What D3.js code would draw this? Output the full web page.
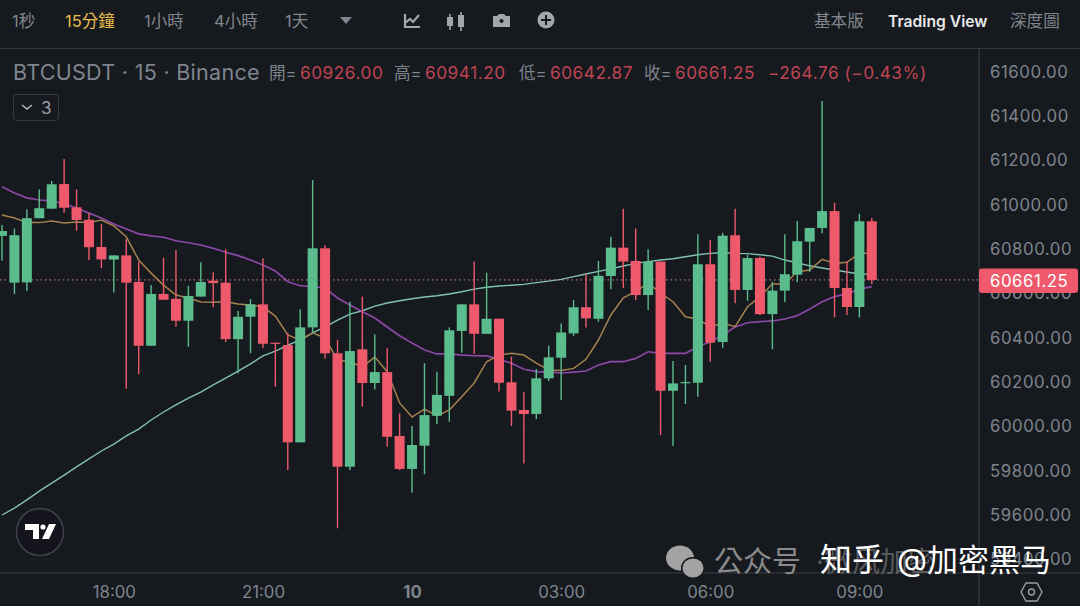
<!DOCTYPE html>
<html>
<head>
<meta charset="utf-8">
<script src="https://cdn.jsdelivr.net/npm/d3@7"></script>
<style>
  html, body { margin: 0; padding: 0; background: #16191e; overflow: hidden; }
  text { font-family: Inter, "Noto Sans CJK TC", sans-serif; }
</style>
</head>
<body>
<div id="chart"></div>
<script>
// candles, oldest first (15 minute bars)
const opens = [60860,60649,60650,60940,60983,61094,60989,60933,60810,60753,60772,60652,60364,60598,60576,60477,60586,60658,60649,60394,60495,60551,60378,60367,59928,60447,60804,60330,59818,60348,60196,60245,59957,59808,59913,60048,60138,60431,60551,60418,60486,60199,60074,60056,60217,60310,60420,60538,60486,60679,60807,60747,60593,60744,60161,60197,60197,60732,60381,60863,60616,60760,60507,60613,60685,60834,60896,60972,60625,60539,60926];
const highs = [60909,60894,60980,61070,61108,61207,61070,60962,60914,60772,60845,60744,60638,60762,60796,60635,60741,60696,60800,60521,60575,60759,60378,60422,60529,61112,60818,60390,60563,60586,60416,60353,60059,60002,60285,60247,60447,60551,60744,60694,60486,60315,60154,60259,60364,60465,60571,60688,60747,60856,60983,60894,60800,60744,60295,60277,60867,60841,60874,60983,60774,60766,60653,60867,60927,60896,61469,61010,60744,60960,60941.2];
const lows = [60748,60598,60611,60940,60983,60965,60883,60751,60715,60604,60170,60236,60364,60572,60450,60360,60586,60538,60381,60240,60330,60354,60179,59803,59928,60422,60306,59540,59803,60089,60167,59908,59803,59701,59784,60011,60021,60333,60327,60418,60157,60002,59833,60033,60205,60119,60409,60447,60473,60619,60625,60571,60525,59961,59911,60101,60134,60292,60355,60556,60567,60503,60348,60562,60651,60698,60872,60492,60503,60492,60642.87];
const closes = [60882,60863,60940,60985,61093,60987,60932,60809,60754,60772,60649,60364,60598,60572,60477,60589,60652,60647,60394,60495,60551,60373,60374,59928,60447,60804,60330,59818,60340,60196,60245,59953,59808,59916,60051,60142,60434,60551,60418,60486,60197,60071,60056,60217,60312,60424,60538,60488,60680,60807,60744,60593,60744,60161,60194,60200,60732,60378,60861,60616,60760,60507,60613,60687,60836,60896,60972,60625,60539,60926,60661.25];

// moving averages, one value per candle
const ma7 = [60954,60941,60920,60920,60927,60918,60923,60920,60932,60905,60856,60751,60692,60638,60593,60580,60562,60560,60563,60553,60548,60540,60498,60413,60390,60422,60399,60300,60292,60269,60313,60247,60106,60042,60078,60047,60074,60134,60196,60292,60322,60330,60322,60286,60255,60252,60262,60303,60390,60503,60580,60608,60647,60602,60563,60495,60485,60449,60467,60450,60540,60586,60643,60643,60698,60706,60754,60736,60741,60781,60783];
const ma25 = [61082,61054,61032,61022,61018,61004,60986,60963,60941,60914,60891,60869,60860,60854,60838,60829,60819,60804,60786,60771,60751,60729,60702,60653,60635,60631,60625,60580,60548,60518,60489,60449,60409,60376,60345,60327,60327,60322,60319,60318,60303,60285,60258,60247,60245,60241,60245,60250,60277,60292,60292,60307,60337,60330,60330,60330,60360,60382,60413,60449,60468,60473,60476,60485,60500,60530,60563,60586,60598,60620,60631];
const ma99 = [59600,59631,59668,59708,59744,59780,59817,59853,59889,59920,59957,59988,60029,60065,60097,60128,60155,60187,60218,60250,60282,60318,60340,60367,60390,60422,60449,60480,60507,60522,60543,60557,60567,60576,60584,60590,60598,60608,60620,60628,60634,60637,60641,60649,60656,60664,60676,60688,60700,60711,60724,60736,60744,60751,60757,60766,60775,60781,60784,60781,60780,60775,60769,60751,60739,60725,60715,60706,60697,60688,60687];

const priceTicks = [61600,61400,61200,61000,60800,60600,60400,60200,60000,59800,59600,59400];
const timeTickIdx = [9,21,33,45,57,69];
const timeTickLabels = ["18:00","21:00","10","03:00","06:00","09:00"];
const intervals = ["1秒","15分鐘","1小時","4小時","1天"];
const intervalX = [12,65,144,214,285];
const viewTabs = ["基本版","Trading View","深度圖"];
const viewTabX = [814,888,1010];
const lastClose = 60661.25;

const RED = "#ee5a6c", GREEN = "#5bbd8d", GREY = "#7f858e", BG = "#16191e";
const width = 1080, height = 606;
const plotRight = 979, plotTop = 49, plotBottom = 573;

const svg = d3.select("#chart").append("svg")
    .attr("width", width)
    .attr("height", height)
    .style("display", "block");

svg.append("rect").attr("width", width).attr("height", height).attr("fill", BG);

const x = d3.scaleLinear().domain([0, 70]).range([2, 871.8]);
const y = d3.scaleLinear().domain([59400, 61600]).range([559.3, 72]);

// grid
const plot = svg.append("g");
plot.selectAll(".gx").data(timeTickIdx).enter().append("line")
    .attr("x1", d => x(d)).attr("x2", d => x(d))
    .attr("y1", plotTop).attr("y2", plotBottom)
    .attr("stroke", "#1a1e23");
plot.selectAll(".gy").data(priceTicks).enter().append("line")
    .attr("x1", 0).attr("x2", plotRight)
    .attr("y1", d => y(d)).attr("y2", d => y(d))
    .attr("stroke", "#1a1e23");

// moving averages go under the candles
const line = d3.line().x((d, i) => x(i)).y(d => y(d));
[[ma99, "#80c2b4", 1.4], [ma25, "#8b48a6", 1.7], [ma7, "#a5824f", 1.5]].forEach(s => {
    plot.append("path")
        .attr("d", line(s[0]))
        .attr("fill", "none")
        .attr("stroke", s[1])
        .attr("stroke-width", s[2]);
});

// last price line
plot.append("line")
    .attr("x1", 0).attr("x2", plotRight)
    .attr("y1", y(lastClose)).attr("y2", y(lastClose))
    .attr("stroke", "#d9808c")
    .attr("stroke-width", 1)
    .attr("stroke-dasharray", "1.5 3");

// candles
const candle = plot.selectAll(".candle").data(opens).enter().append("g");
const colour = (d, i) => closes[i] >= opens[i] ? GREEN : RED;
candle.append("line")
    .attr("x1", (d, i) => x(i)).attr("x2", (d, i) => x(i))
    .attr("y1", (d, i) => y(highs[i])).attr("y2", (d, i) => y(lows[i]))
    .attr("stroke", colour)
    .attr("stroke-width", 1.4);
candle.append("rect")
    .attr("x", (d, i) => x(i) - 5)
    .attr("width", 10)
    .attr("y", (d, i) => y(Math.max(opens[i], closes[i])))
    .attr("height", (d, i) => Math.max(1.2, Math.abs(y(opens[i]) - y(closes[i]))))
    .attr("fill", colour);

// frame
svg.append("line").attr("x1", 0).attr("x2", width).attr("y1", plotTop - 0.5).attr("y2", plotTop - 0.5).attr("stroke", "#33373d");
svg.append("line").attr("x1", 0).attr("x2", width).attr("y1", plotBottom).attr("y2", plotBottom).attr("stroke", "#3a3e44").attr("stroke-width", 1.2);
svg.append("line").attr("x1", plotRight).attr("x2", plotRight).attr("y1", plotTop).attr("y2", height).attr("stroke", "#3a3e44").attr("stroke-width", 1.2);

// price axis
const yAxis = d3.axisRight(y).tickValues(priceTicks).tickSize(0).tickPadding(0).tickFormat(d3.format(".2f"));
const yG = svg.append("g").attr("transform", "translate(990,0)").call(yAxis);
yG.select(".domain").remove();
yG.selectAll("text").attr("fill", GREY).attr("font-size", 16.8).attr("letter-spacing", 0.55).style("font-family", "Inter");

// time axis
const xAxis = d3.axisBottom(x).tickValues(timeTickIdx).tickSize(0).tickPadding(0)
    .tickFormat((d, i) => timeTickLabels[i]);
const xG = svg.append("g").attr("transform", "translate(0,586.5)").call(xAxis);
xG.select(".domain").remove();
xG.selectAll("text").attr("fill", GREY).attr("font-size", 16.8).attr("dy", "0.71em").style("font-family", "Inter")
    .attr("font-weight", (d, i) => timeTickLabels[i] === "10" ? 700 : 400);

// last price tag
svg.append("rect").attr("x", 979).attr("y", 268.5).attr("width", 99).attr("height", 24.5).attr("rx", 3).attr("fill", RED);
svg.append("text").attr("x", 990).attr("y", 286.5).attr("fill", "#fff").attr("font-size", 16.8).attr("letter-spacing", 0.55).text(d3.format(".2f")(lastClose));

// top bar
svg.selectAll(".iv").data(intervals).enter().append("text")
    .attr("x", (d, i) => intervalX[i]).attr("y", 27)
    .attr("font-size", 16.5)
    .attr("fill", (d, i) => i === 1 ? "#e8bd4c" : "#82878f")
    .text(d => d);
svg.append("path").attr("d", "M340 17h12l-6 7z").attr("fill", "#82878f");
svg.selectAll(".tab").data(viewTabs).enter().append("text")
    .attr("x", (d, i) => viewTabX[i]).attr("y", 27)
    .attr("font-size", (d, i) => i === 1 ? 15.7 : 16.6)
    .attr("font-weight", (d, i) => i === 1 ? 600 : 400)
    .attr("fill", (d, i) => i === 1 ? "#e6e8ea" : "#82878f")
    .text(d => d);

// toolbar icons
const icon = "#a2a6ad";
svg.append("path").attr("d", "M405 14v13h15M405 23l5-4 3 3 6-7").attr("fill", "none").attr("stroke", icon).attr("stroke-width", 2.2);
svg.append("path").attr("d", "M447 17h6v9h-6zM458 15h6v12h-6z").attr("fill", icon);
svg.append("path").attr("d", "M450 14v16M461 12v19").attr("stroke", icon).attr("stroke-width", 1.6);
svg.append("path").attr("d", "M493 16h4l2-2h5l2 2h4v11h-17z").attr("fill", icon);
svg.append("circle").attr("cx", 501.5).attr("cy", 21).attr("r", 2).attr("fill", BG);
svg.append("circle").attr("cx", 546).attr("cy", 20).attr("r", 8.5).attr("fill", icon);
svg.append("path").attr("d", "M546 15v10M541 20h10").attr("stroke", BG).attr("stroke-width", 2);

// legend row
svg.append("text").attr("x", 13).attr("y", 79.5).attr("font-size", 21.5).attr("letter-spacing", 0.3).attr("fill", GREY).text("BTCUSDT · 15 · Binance");
const ohlcLabels = ["開=","高=","低=","收="];
const ohlcValues = ["60926.00","60941.20","60642.87","60661.25"];
const ohlcX = [269,394,519,644];
ohlcLabels.forEach((d, i) => {
    svg.append("text").attr("x", ohlcX[i]).attr("y", 78.5).attr("font-size", 16.6).attr("fill", GREY).text(d);
    svg.append("text").attr("x", ohlcX[i] + 31).attr("y", 78.5).attr("font-size", 17.2).attr("letter-spacing", 0.55).attr("fill", "#bf4454").text(ohlcValues[i]);
});
svg.append("text").attr("x", 768).attr("y", 78.5).attr("font-size", 17.2).attr("letter-spacing", 0.55).attr("fill", "#bf4454").text("−264.76 (−0.43%)");

svg.append("rect").attr("x", 13.5).attr("y", 94.5).attr("width", 45).attr("height", 26).attr("rx", 3).attr("fill", BG).attr("stroke", "#383c42");
svg.append("path").attr("d", "M22 105l5 4 5-4").attr("fill", "none").attr("stroke", "#b4b7bb").attr("stroke-width", 1.6);
svg.append("text").attr("x", 41).attr("y", 113.5).attr("font-size", 17).attr("fill", "#9a9ea4").text("3");

// TradingView badge
svg.append("circle").attr("cx", 40).attr("cy", 532).attr("r", 23.5).attr("fill", "#14141d").attr("stroke", "#3f414b").attr("stroke-width", 1.6);
svg.append("path").attr("d", "M25 524h14v15h-6v-9h-8z").attr("fill", "#fff");
svg.append("circle").attr("cx", 43).attr("cy", 527).attr("r", 2.6).attr("fill", "#fff");
svg.append("path").attr("d", "M49 524h7l-7 15h-7z").attr("fill", "#fff");

// settings hexagon
svg.append("path").attr("d", "M1021 592l5-9h11l5 9-5 9h-11z").attr("fill", "none").attr("stroke", "#9a9ea4").attr("stroke-width", 1.4);
svg.append("circle").attr("cx", 1031.5).attr("cy", 592).attr("r", 3).attr("fill", "none").attr("stroke", "#9a9ea4").attr("stroke-width", 1.4);

// watermarks
const mark = svg.append("g");
mark.append("ellipse").attr("cx", 680).attr("cy", 558).attr("rx", 14).attr("ry", 12.5).attr("fill", "#a3a3a3");
mark.append("ellipse").attr("cx", 693).attr("cy", 568).attr("rx", 12).attr("ry", 11).attr("fill", BG);
mark.append("ellipse").attr("cx", 693).attr("cy", 568).attr("rx", 10.5).attr("ry", 9.5).attr("fill", "#a3a3a3");
mark.append("text").attr("x", 714).attr("y", 572).attr("font-size", 29).attr("fill", "#8a8a8a").text("公众号");
mark.append("text").attr("x", 816).attr("y", 572).attr("font-size", 28).attr("fill", "#6a6a6a").attr("opacity", 0.8).text("·微风加密");
mark.append("text").attr("x", 820).attr("y", 571).attr("font-size", 32).attr("fill", "#fff").text("知乎");
mark.append("text").attr("x", 897).attr("y", 571).attr("font-size", 31).attr("fill", "#fff").text("@加密黑马");
</script>
</body>
</html>
